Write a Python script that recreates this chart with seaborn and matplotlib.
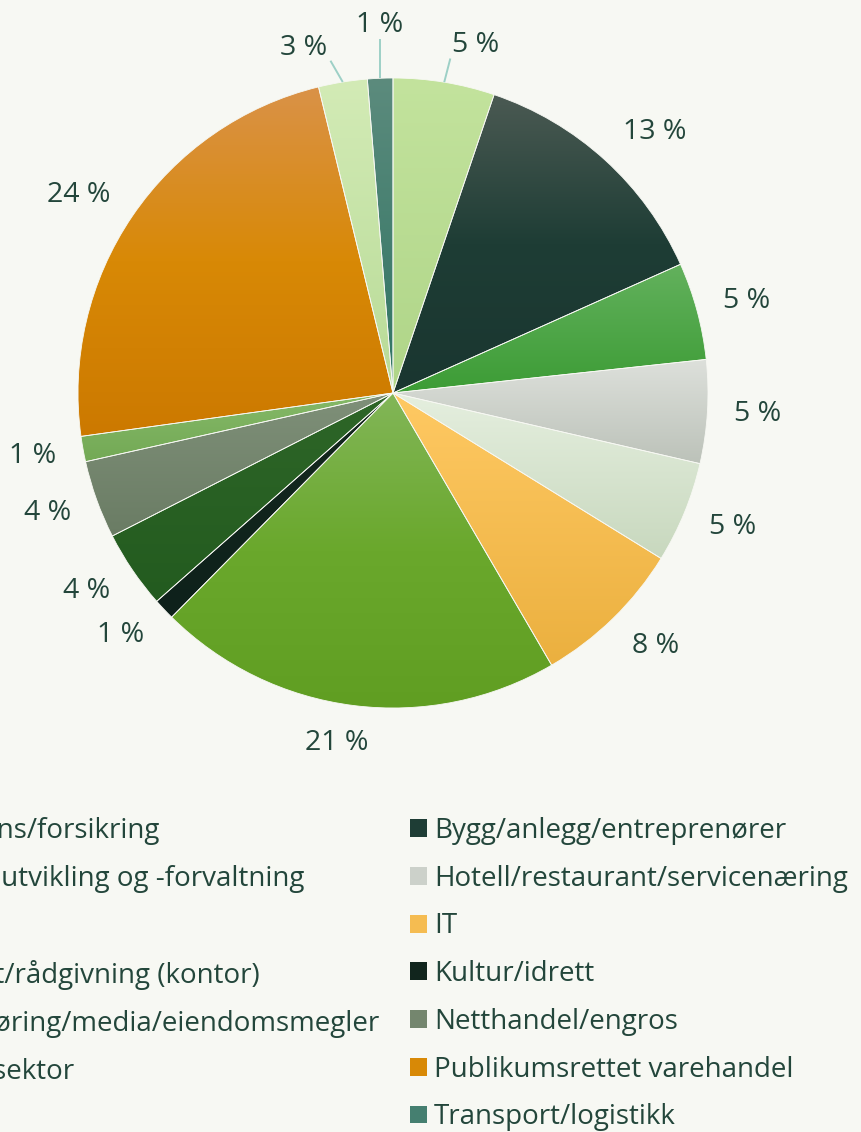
import numpy as np
import matplotlib
matplotlib.use("Agg")
import matplotlib.pyplot as plt
from matplotlib.patches import Patch
import seaborn as sns

# Bransjer i samme rekkefølge som i tegnforklaringen (med klokka fra toppen)
sectors = [
    "Bank/finans/forsikring",
    "Bygg/anlegg/entreprenører",
    "Eiendomsutvikling og -forvaltning",
    "Hotell/restaurant/servicenæring",
    "Industri",
    "IT",
    "Konsulent/rådgivning (kontor)",
    "Kultur/idrett",
    "Markedsføring/media/eiendomsmegler",
    "Netthandel/engros",
    "Offentlig sektor",
    "Publikumsrettet varehandel",
    "Reiseliv",
    "Transport/logistikk",
]
shares = [5.2, 13.1, 5.0, 5.3, 5.2, 7.8, 20.8, 1.1, 4.0, 4.0, 1.3, 23.4, 2.5, 1.3]
share_labels = ["5 %", "13 %", "5 %", "5 %", "5 %", "8 %", "21 %",
                "1 %", "4 %", "4 %", "1 %", "24 %", "3 %", "1 %"]

# gradient colours per slice, top -> bottom
grad_colors = [
    ["#c3e39d", "#afd588"],
    ["#4b5a53", "#1e3d35", "#1a3630"],
    ["#63b15d", "#3c9c35"],
    ["#dde0db", "#bcc2b9"],
    ["#e5efdf", "#c8d8be"],
    ["#ffc963", "#ebb03f"],
    ["#82b658", "#6aa82c", "#609e22"],
    ["#15291f", "#0e211b"],
    ["#2e6628", "#235b1f"],
    ["#7f9079", "#6a7c64"],
    ["#85b968", "#73a955"],
    ["#da9248", "#d88906", "#cc7900"],
    ["#d3ebb6", "#b8db97"],
    ["#5c8b7d", "#2f7463"],
]

bg = "#f7f8f3"
text_color = "#23463b"
line_color = "#9dd0c6"

sns.set_theme(style="white", rc={"figure.facecolor": bg, "axes.facecolor": bg})
plt.rcParams["font.family"] = ["Open Sans", "DejaVu Sans"]

W, H = 861, 1132
R_PX = 315          # pie radius in pixels
CX, CY = 393, 393   # pie centre (pixels from top-left)
LIM = 1.4

fig = plt.figure(figsize=(W / 100, H / 100), dpi=100)
half = LIM * R_PX
ax = fig.add_axes([(CX - half) / W, (H - CY - half) / H, 2 * half / W, 2 * half / H])

wedges, _ = ax.pie(shares, startangle=90, counterclock=False, radius=1,
                   wedgeprops=dict(edgecolor=bg, linewidth=0.6))
ax.set_xlim(-LIM, LIM)
ax.set_ylim(-LIM, LIM)
ax.set_aspect("equal")
ax.axis("off")

# vertical gradient inside each wedge
for w, cols in zip(wedges, grad_colors):
    w.set_facecolor("none")
    t = np.deg2rad(np.linspace(w.theta1, w.theta2, 200))
    xs = np.concatenate([[0], np.cos(t)])
    ys = np.concatenate([[0], np.sin(t)])
    pal = sns.blend_palette(cols, 256)
    img = np.array(pal)[:, None, :]
    im = ax.imshow(img, extent=[xs.min(), xs.max(), ys.min(), ys.max()],
                   origin="upper", aspect="auto", interpolation="bilinear", zorder=1)
    im.set_clip_path(w)
    w.set_zorder(2)

# percentage labels, placed just outside the edge
nudges = {0: (14, 0), 12: (-22, 3), 13: (4, -15)}   # pixels (right, down)
texts = []
for i, (w, lab) in enumerate(zip(wedges, share_labels)):
    t = ax.text(0, 0, lab, fontsize=20.5, color=text_color, ha="center", va="center", zorder=5)
    texts.append(t)

fig.canvas.draw()
renderer = fig.canvas.get_renderer()
R_LAB = 342 / R_PX
for i, (w, t) in enumerate(zip(wedges, texts)):
    mid = np.deg2rad((w.theta1 + w.theta2) / 2)
    dx, dy = np.cos(mid), np.sin(mid)
    bb = t.get_window_extent(renderer)
    wpx = bb.width
    hpx = 22
    ox = wpx / 2 * np.clip(dx / 0.3, -1, 1)
    oy = hpx / 2 * dy
    x = dx * R_LAB + ox / R_PX
    y = dy * R_LAB + oy / R_PX
    if i in nudges:
        nx, ny = nudges[i]
        x += nx / R_PX
        y -= ny / R_PX
    t.set_position((x, y))

fig.canvas.draw()
for i in nudges:
    w, t = wedges[i], texts[i]
    mid = np.deg2rad((w.theta1 + w.theta2) / 2)
    ex, ey = np.cos(mid), np.sin(mid)
    bb = t.get_window_extent(renderer).transformed(ax.transData.inverted())
    x0, y0, x1, y1 = bb.x0, bb.y0 + 6 / R_PX, bb.x1, bb.y1
    px = np.clip(ex, x0, x1)
    py = np.clip(ey, y0, y1)
    vx, vy = px - ex, py - ey
    d = np.hypot(vx, vy)
    gap = 6 / R_PX
    px, py = ex + vx * (d - gap) / d, ey + vy * (d - gap) / d
    ax.plot([ex, px], [ey, py], color=line_color, lw=1.4, zorder=3, solid_capstyle="butt")

# legend in two columns (row-major order)
handles = [Patch(facecolor=sns.blend_palette(c, 3)[1], edgecolor="none") for c in grad_colors]
fs_px = 20 * 100 / 72
leg_kw = dict(frameon=False, fontsize=20, labelcolor=text_color,
              borderpad=0, borderaxespad=0, handlelength=17 / fs_px, handleheight=17 / fs_px,
              handletextpad=7 / fs_px, labelspacing=0.71)
left_idx = list(range(0, len(sectors), 2))
right_idx = list(range(1, len(sectors), 2))
fig.legend([handles[i] for i in left_idx], [sectors[i] for i in left_idx], loc="upper right",
           bbox_to_anchor=(380 / W, 1 - 817 / H), **leg_kw)
fig.legend([handles[i] for i in right_idx], [sectors[i] for i in right_idx], loc="upper left",
           bbox_to_anchor=(410 / W, 1 - 817 / H), **leg_kw)

fig.savefig("out.png", dpi=100, facecolor=bg)
